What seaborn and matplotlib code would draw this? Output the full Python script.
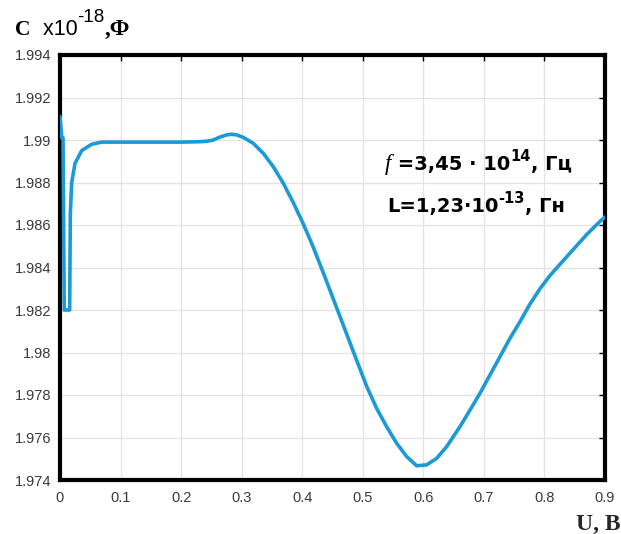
import matplotlib
matplotlib.use("Agg")
import matplotlib.pyplot as plt
import seaborn as sns
import numpy as np
import pandas as pd
from matplotlib.ticker import FixedLocator, FuncFormatter

# ---- data (U in volts, C in units of 1e-18 F) ----
U = [0.000, 0.003, 0.005, 0.007, 0.011, 0.016, 0.017, 0.0193, 0.0248, 0.0358,
     0.0523, 0.0688, 0.0908, 0.150, 0.200, 0.2312, 0.2422, 0.2532, 0.2642, 0.2752,
     0.2830, 0.2918, 0.3028, 0.3193, 0.3358, 0.3523, 0.3688, 0.3853, 0.4018, 0.4183,
     0.4348, 0.4513, 0.4623, 0.4844, 0.5064, 0.5229, 0.5394, 0.5559, 0.5725, 0.5890,
     0.6055, 0.6220, 0.6385, 0.6605, 0.6770, 0.6935, 0.7100, 0.7265, 0.7431, 0.7596,
     0.7761, 0.7926, 0.8091, 0.8256, 0.8476, 0.8697, 0.8917, 0.9000]
C = [1.9911, 1.9901, 1.9901, 1.9820, 1.9820, 1.9820, 1.9865, 1.9880, 1.9889, 1.9895,
     1.9898, 1.98990, 1.98990, 1.98990, 1.98990, 1.98992, 1.98994, 1.99000, 1.99014, 1.99024,
     1.99027, 1.99024, 1.99012, 1.98984, 1.98937, 1.98874, 1.98796, 1.98705, 1.98605, 1.98495,
     1.98375, 1.98252, 1.98170, 1.98004, 1.97841, 1.97737, 1.97651, 1.97573, 1.97510, 1.97467,
     1.97471, 1.97502, 1.97557, 1.97651, 1.97729, 1.97808, 1.97894, 1.97980, 1.98067, 1.98145,
     1.98228, 1.98300, 1.98362, 1.98415, 1.98485, 1.98555, 1.98617, 1.98638]

x_ticks = [0, 0.1, 0.2, 0.3, 0.4, 0.5, 0.6, 0.7, 0.8, 0.9]
y_ticks = [1.974, 1.976, 1.978, 1.98, 1.982, 1.984, 1.986, 1.988, 1.99, 1.992, 1.994]

W, H = 621, 534
sns.set_theme(style="white")
plt.rcParams['font.family'] = ['Liberation Sans', 'DejaVu Sans']

fig = plt.figure(figsize=(W / 100, H / 100), dpi=100)
ax = fig.add_axes([60 / W, 1 - 480 / H, (605 - 60) / W, (480 - 55) / H])

df = pd.DataFrame({"U": U, "C": C})
sns.lineplot(data=df, x="U", y="C", ax=ax, color="#1b9ad6", linewidth=2.6,
             estimator=None, sort=False, zorder=3)
ax.lines[0].set_solid_joinstyle("round")

ax.set_xlim(0, 0.9)
ax.set_ylim(1.974, 1.994)
ax.xaxis.set_major_locator(FixedLocator(x_ticks))
ax.yaxis.set_major_locator(FixedLocator(y_ticks))
ax.xaxis.set_major_formatter(FuncFormatter(lambda v, p: "%g" % round(v, 3)))
ax.yaxis.set_major_formatter(FuncFormatter(lambda v, p: "%g" % round(v, 4)))
ax.set_xlabel("")
ax.set_ylabel("")
ax.grid(True, color="#e3e3e3", linewidth=0.9, zorder=0)
ax.tick_params(axis="both", which="major", direction="in", length=4, width=1,
               color="black", top=True, right=True, labelsize=10.5,
               labelcolor="#3a3a3a")
ax.tick_params(axis="x", pad=8)
ax.tick_params(axis="y", pad=6)
for s in ax.spines.values():
    s.set_color("black")
    s.set_linewidth(3)
    s.set_visible(True)

renderer = fig.canvas.get_renderer()


def runs(x0, ybase, pieces):
    x = x0
    for s, kw, dy in pieces:
        t = fig.text(x / W, 1 - (ybase - dy) / H, s, va="baseline", ha="left",
                     color="black", **kw)
        bb = t.get_window_extent(renderer=renderer)
        x += bb.width


serifb = dict(family=["Liberation Serif", "DejaVu Serif"], weight="bold")
sans = dict(family=["Liberation Sans", "DejaVu Sans"])
annb = dict(family=["DejaVu Sans"], weight="bold")

# title
runs(15, 35, [("C", dict(serifb, size=15.5), 0),
              ("  x10", dict(sans, size=15.5), 0),
              ("-18", dict(sans, size=13.5), 13),
              (",Ф", dict(serifb, size=16.5), 0)])

# x-axis label
fig.text(620 / W, 1 - 530 / H, "U, B", ha="right", va="baseline",
         family=["Liberation Serif", "DejaVu Serif"], weight="bold", size=17)

# annotation
runs(385, 170, [("f", dict(family=["Liberation Serif"], style="italic", size=16.5), 0),
                (" =3,45 · 10", dict(annb, size=14), 0),
                ("14", dict(annb, size=10.5), 9),
                (", Гц", dict(annb, size=14), 0)])
runs(387, 212, [("L=1,23·10", dict(annb, size=14), 0),
                ("-13", dict(annb, size=10.5), 9),
                (", Гн", dict(annb, size=14), 0)])

fig.savefig("out.png", dpi=100, facecolor="white")
